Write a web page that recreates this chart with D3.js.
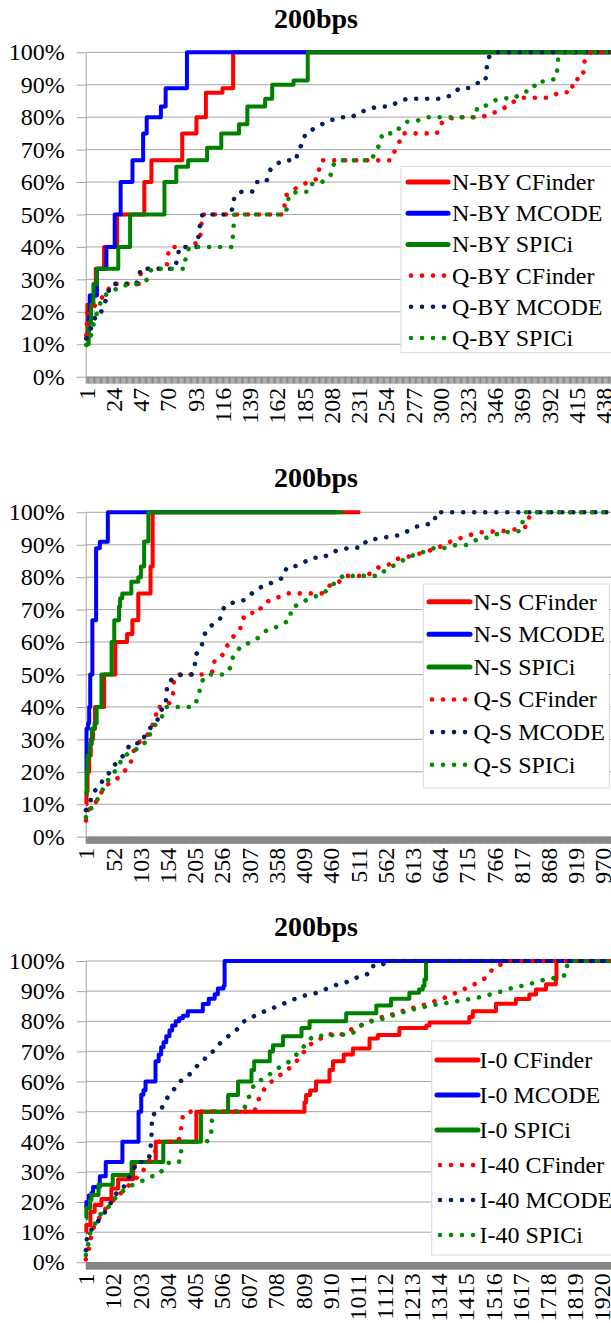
<!DOCTYPE html>
<html>
<head>
<meta charset="utf-8">
<script src="https://cdn.jsdelivr.net/npm/d3@7"></script>
<style>
  body { margin: 0; background: #fff; overflow: hidden; }
  svg { display: block; }
  svg text { font-family: "Liberation Serif", "DejaVu Serif", "Times New Roman", Times, serif; fill: #000; }
</style>
</head>
<body>
<svg id="chart" width="611" height="1323"></svg>
<script>
// ---- data: [category index, percent] ----
const pctTicks = [0, 10, 20, 30, 40, 50, 60, 70, 80, 90, 100];

// panel 1 : BY
const byTicks = [1, 24, 47, 70, 93, 116, 139, 162, 185, 208, 231, 254, 277, 300, 323, 346, 369, 392, 415, 438];
const byLabels = ["N-BY CFinder", "N-BY MCODE", "N-BY SPICi", "Q-BY CFinder", "Q-BY MCODE", "Q-BY SPICi"];
const nbyCFinder = [[1,12.5],[2,22.2],[4,25],[9,33.3],[16,40],[27,50],[50,60],[56,66.7],[82,75],[94,80],[102,87.5],[116,88.9],[125,100],[456,100]];
const nbyMCODE = [[1,12.5],[3,20],[4,25],[10,33.3],[18,40],[25,50],[30,60],[40,66.7],[49,75],[52,80],[64,83.3],[68,88.9],[86,100],[456,100]];
const nbySPICi = [[1,10],[3,16.7],[5,22.2],[7,28.6],[10,33.3],[28,40],[38,50],[67,60],[77,64.7],[87,66.7],[103,70.6],[115,75],[130,77.8],[137,83.3],[152,85.7],[158,90],[176,91.3],[188,100],[456,100]];
const qbyCFinder = [[1,12.8],[2,20],[6,21],[9,22.2],[13,24],[18,25.6],[22,28.6],[46,28.6],[47,32],[48,33.3],[66,33.3],[69,34],[70,37.7],[72,40],[89,40],[97,42],[98,46],[99,50],[167,50],[170,56],[175,57.4],[182,59],[189,60],[196,61],[198,64.7],[200,66.7],[258,66.7],[262,70],[265,72],[268,75],[297,75],[300,77.9],[306,79.4],[313,80],[335,80],[342,81],[350,82],[357,83.5],[364,85.3],[370,86],[391,86],[397,87],[401,87.7],[411,87.7],[412,91.5],[420,92],[421,94.5],[422,98],[427,100],[456,100]];
const qbyMCODE = [[1,11.8],[3,13],[5,15],[7,17],[10,19.5],[13,19.5],[16,22.2],[19,25],[21,28],[23,28.6],[43,28.6],[45,30],[47,33.3],[76,33.3],[78,37],[80,40],[95,40],[96,45],[98,48],[99,50],[121,50],[125,52],[126,55.6],[132,57],[141,57],[145,60],[153,60],[156,63.6],[161,65.5],[168,66.7],[178,66.7],[180,70],[184,72],[186,75],[193,76.4],[200,77.8],[207,79],[216,80],[225,80],[232,81.5],[240,82.5],[247,83.3],[257,83.3],[264,84.6],[272,85.7],[300,85.7],[309,86.7],[316,88.9],[324,89],[331,90.5],[338,91],[339,94.5],[340,98],[344,100],[456,100]];
const qbySPICi = [[1,9.8],[3,12],[5,12.8],[7,16],[9,18.5],[12,22],[16,25],[22,26],[30,28],[45,28.6],[53,30],[56,33.3],[84,33.3],[85,37],[88,40],[124,40],[125,44],[126,50],[167,50],[171,52],[172,56],[179,57],[189,57],[192,59.6],[200,60],[207,61.7],[209,65],[213,66.7],[242,66.7],[245,69.6],[249,71.6],[251,75],[262,75],[266,77],[272,78.6],[281,79],[289,80],[330,80],[331,83],[338,83.5],[347,85.3],[354,85.8],[362,85.8],[369,87.6],[378,88.4],[381,91],[390,91],[398,92],[399,96],[400,100],[456,100]];

// panel 2 : S
const sTicks = [1, 52, 103, 154, 205, 256, 307, 358, 409, 460, 511, 562, 613, 664, 715, 766, 817, 868, 919, 970];
const sLabels = ["N-S CFinder", "N-S MCODE", "N-S SPICi", "Q-S CFinder", "Q-S MCODE", "Q-S SPICi"];
const nsCFinder = [[1,10],[2,14],[4,20],[7,25],[10,30],[14,33.3],[18,40],[35,50],[56,60],[78,62.5],[88,66.7],[99,75],[122,83.3],[126,100],[515,100]];
const nsMCODE = [[1,20],[2,33.3],[5,35],[7,40],[9,50],[13,66.7],[20,88.9],[27,90.9],[42,100],[470,100]];
const nsSPICi = [[1,13],[2,20],[4,25],[8,28.6],[12,33.3],[17,35],[21,40],[30,50],[49,60],[54,66.7],[63,71],[65,73.5],[69,75],[86,78.6],[99,80],[104,83.3],[110,91],[118,100],[483,100]];
const qsCFinder = [[1,5],[5,8.2],[18,10.3],[27,12.6],[35,15.4],[50,17],[65,18.5],[84,22.3],[93,28],[116,31.3],[132,36.5],[133,40],[150,40],[162,42],[165,45],[166,48.8],[175,50],[221,50],[240,51],[242,54.5],[255,55.7],[262,57],[268,60],[279,62],[290,64],[294,67],[304,69],[324,69],[332,71.6],[346,72.9],[364,74],[379,75],[443,75],[459,77.6],[471,77.9],[487,80.4],[527,80.4],[542,82.2],[554,83.5],[571,84],[587,85.8],[610,86.5],[639,87.9],[660,89],[687,91.2],[702,92],[734,93.7],[759,94],[793,94.3],[812,95],[827,95.6],[832,98.7],[840,100],[1012,100]];
const qsMCODE = [[1,8.2],[10,11.3],[16,13.9],[27,15.7],[35,18.2],[47,20],[54,22],[65,24],[71,25],[85,28.8],[105,28.8],[112,31.5],[121,33.4],[135,36],[139,38.5],[150,40.3],[152,43.7],[153,47],[165,49],[180,50],[199,50],[205,53],[206,56],[217,58],[221,61.4],[227,63.7],[239,65.5],[252,67],[257,70],[265,71.6],[284,72.5],[299,73],[312,75],[324,76.5],[340,77.8],[359,78.8],[371,80],[377,83],[396,83.5],[412,84.8],[426,86],[446,86],[459,87.6],[477,88.4],[496,89.1],[518,89.1],[527,91.3],[534,91.5],[551,92],[570,92.5],[590,93],[605,94.3],[621,95.6],[637,96.1],[654,97],[657,100],[1012,100]];
const qsSPICi = [[1,6],[5,8.2],[13,9],[21,11],[30,13.8],[46,18.5],[60,21],[71,25],[90,26],[105,28.8],[115,29],[124,33],[140,36.5],[149,38],[152,40],[202,40],[212,43],[215,46],[221,48.8],[230,50],[262,50],[271,52],[277,55.7],[293,59],[312,60],[327,61.7],[340,63.7],[354,64.4],[370,65.5],[384,67],[385,70.4],[399,71.6],[415,73],[430,74],[446,75],[459,77],[471,78.8],[483,80.4],[551,80.4],[562,82.2],[574,83.2],[590,84.8],[605,86],[621,87.3],[637,87.9],[654,89],[675,89],[694,89.9],[715,89.9],[729,91.3],[749,92],[765,93],[780,93.7],[796,94],[815,94.2],[820,97.4],[824,100],[1012,100]];

// panel 3 : I
const iTicks = [1, 102, 203, 304, 405, 506, 607, 708, 809, 910, 1011, 1112, 1213, 1314, 1415, 1516, 1617, 1718, 1819, 1920];
const iLabels = ["I-0 CFinder", "I-0 MCODE", "I-0 SPICi", "I-40 CFinder", "I-40 MCODE", "I-40 SPICi"];
const i0CFinder = [[1,10],[3,12.4],[18,16.8],[34,19],[59,21],[96,24.5],[121,27.6],[177,31.7],[183,33.3],[261,40],[412,50],[814,53],[820,55.5],[835,57],[857,60],[907,63.8],[920,66.7],[960,69],[994,71],[1056,74.3],[1087,75.4],[1167,77.8],[1267,78.6],[1279,79.6],[1427,81.4],[1440,83.3],[1526,85.8],[1600,87.4],[1650,88.9],[1675,90.5],[1712,92.3],[1749,93.9],[1751,100],[1755,100]];
const i0MCODE = [[1,18],[3,20],[12,22.2],[22,23],[28,25],[53,28.6],[75,33.3],[137,40],[197,50],[207,55.6],[215,57.1],[223,60],[260,66.7],[272,69],[281,71.4],[290,73],[300,75],[312,76.9],[322,78.6],[335,80],[348,81],[362,81.8],[380,83.3],[436,85.7],[458,87.5],[480,89],[492,90.9],[513,91.7],[517,100],[2008,100]];
const i0SPICi = [[1,14.6],[3,18],[17,20.7],[22,22.3],[48,25.7],[101,29],[171,33.3],[289,40],[429,50],[530,55.5],[567,60],[617,63.8],[627,66.7],[685,70],[697,72],[734,75],[803,77.8],[833,80],[969,82.7],[1081,85.2],[1136,87.5],[1204,89.5],[1240,90.5],[1254,91.7],[1260,93.9],[1266,100],[1270,100]];
const i40CFinder = [[1,1],[11,4],[18,7],[24,10.7],[40,13],[60,16],[80,18.5],[96,20],[125,22.5],[146,24],[165,26],[189,28],[210,29.5],[222,32],[232,33.3],[250,35],[260,37],[270,40],[345,40],[350,42],[356,45],[362,48.9],[381,50],[628,50],[638,52.8],[648,55],[666,57.7],[685,59.5],[700,60.6],[721,62],[750,63.8],[783,66.6],[800,68.5],[814,70],[830,72],[860,73.5],[882,74.7],[907,75.7],[960,75.7],[1000,78],[1037,78.9],[1060,80],[1093,81.2],[1125,81.8],[1161,82.9],[1200,84],[1241,85],[1280,86],[1316,87.2],[1350,88.3],[1384,89.7],[1400,90.5],[1427,91.2],[1440,92],[1470,93.4],[1490,94.5],[1508,96.7],[1526,98.3],[1551,99],[1580,100],[2008,100]];
const i40MCODE = [[1,4],[3,7],[10,9.5],[18,10.2],[28,11.8],[38,12.5],[50,14],[65,15.5],[80,18],[96,20],[110,22],[121,24],[135,25],[146,25.2],[158,27.5],[170,29.5],[180,31],[189,33.3],[225,33.3],[239,35.4],[245,41.4],[246,45],[247,48.9],[276,50],[294,53],[313,56],[335,58],[350,60],[377,61.3],[400,63.8],[424,66],[440,67],[453,69],[474,70],[490,72],[505,73],[536,75.4],[560,77],[585,79.6],[604,81],[622,81.5],[653,82.8],[684,84],[715,85],[746,86.2],[783,87.6],[814,88.5],[851,89.2],[882,90.2],[907,91.2],[930,92],[975,93.1],[990,94],[1020,94.8],[1056,95.9],[1068,98.3],[1100,98.3],[1118,100],[2008,100]];
const i40SPICi = [[1,2.4],[8,5],[18,10.2],[30,12],[45,14.5],[60,16.5],[80,18],[100,19.5],[116,22.3],[145,24],[170,25.5],[200,26.5],[239,28.4],[270,29],[290,31],[313,33.4],[350,33.4],[356,37.3],[368,40],[450,40],[467,41.7],[468,45.6],[474,50],[585,50],[604,53.9],[615,57],[635,60],[670,61],[690,62.8],[734,65.5],[760,66.7],[789,69.4],[810,71.5],[826,73.2],[845,75],[990,75.7],[1019,78.4],[1040,79.5],[1065,80],[1093,80.5],[1130,81.6],[1170,82.7],[1211,83.8],[1250,84.6],[1300,85.5],[1340,86],[1380,86.6],[1415,87.2],[1452,87.7],[1490,88.5],[1525,89.5],[1551,90],[1590,91.2],[1620,91.7],[1650,92.3],[1690,93.4],[1720,94.1],[1755,94.5],[1786,95.4],[1788,97.8],[1798,100],[2008,100]];

// ---- layout ----
const serif = "'Liberation Serif', 'DejaVu Serif', 'Times New Roman', Times, serif";
const colors = ["#ff0000", "#0000ff", "#008000", "#ff0000", "#002060", "#008a00"];
const plotLeft = 85.7, plotWidth = 540;
const dots = "0.01 11";

const panels = [
  { n: 456, titleY: 28, top: 52.3, bottom: 376.7, ticks: byTicks, labels: byLabels,
    series: [nbyCFinder, nbyMCODE, nbySPICi, qbyCFinder, qbyMCODE, qbySPICi],
    leg: { x: 401, y: 166.5, w: 214, h: 186, row0: 182, step: 31.2, l0: 408, l1: 448, tx: 452 } },
  { n: 1012, titleY: 487, top: 512.3, bottom: 836.7, ticks: sTicks, labels: sLabels,
    series: [nsCFinder, nsMCODE, nsSPICi, qsCFinder, qsMCODE, qsSPICi],
    leg: { x: 423.3, y: 584, w: 186, h: 204, row0: 601.7, step: 32.6, l0: 429, l1: 470, tx: 473.5 } },
  { n: 2008, titleY: 936, top: 961, bottom: 1262.3, ticks: iTicks, labels: iLabels,
    series: [i0CFinder, i0MCODE, i0SPICi, i40CFinder, i40MCODE, i40SPICi],
    leg: { x: 431.7, y: 1041, w: 190, h: 214, row0: 1060, step: 35, l0: 437, l1: 478, tx: 479.5 } }
];

const svg = d3.select("#chart").attr("font-family", serif);

panels.forEach(p => {
  const g = svg.append("g");
  const x = d3.scaleLinear().domain([0.5, p.n + 0.5]).range([plotLeft, plotLeft + plotWidth]);
  const y = d3.scaleLinear().domain([0, 100]).range([p.bottom, p.top]);

  g.append("text")
    .attr("x", 316).attr("y", p.titleY)
    .attr("text-anchor", "middle")
    .attr("font-family", serif)
    .attr("font-size", 28).attr("font-weight", "bold")
    .text("200bps");

  // gridlines
  g.append("g").selectAll("line")
    .data(pctTicks.filter(d => d > 0))
    .join("line")
    .attr("x1", plotLeft).attr("x2", plotLeft + plotWidth)
    .attr("y1", d => y(d)).attr("y2", d => y(d))
    .attr("stroke", "#a6a6a6").attr("stroke-width", 1);

  // y axis
  const ya = g.append("g")
    .attr("transform", "translate(" + plotLeft + ",0)")
    .call(d3.axisLeft(y).tickValues(pctTicks).tickSize(9).tickSizeOuter(0).tickPadding(12).tickFormat(d => d + "%"));
  ya.attr("font-family", serif).attr("font-size", 24);
  ya.select(".domain").attr("stroke", "#a6a6a6");
  ya.selectAll(".tick line").attr("stroke", "#a6a6a6");
  ya.selectAll("text").attr("fill", "#000");

  // x axis: a tick mark at every category boundary
  const xa = g.append("g")
    .attr("transform", "translate(0," + p.bottom + ")")
    .call(d3.axisBottom(x).tickValues(d3.range(0.5, p.n + 1, 1)).tickSize(7).tickSizeOuter(0).tickFormat(""));
  xa.select(".domain").attr("stroke", "#868686");
  xa.selectAll(".tick line").attr("stroke", "#868686");

  // x labels, rotated
  g.append("g").selectAll("text")
    .data(p.ticks)
    .join("text")
    .attr("transform", d => "translate(" + x(d) + "," + (p.bottom + 11) + ") rotate(-90)")
    .attr("text-anchor", "end")
    .attr("dy", "0.35em")
    .attr("font-family", serif)
    .attr("font-size", 24)
    .text(d => d);

  // series
  p.series.forEach((data, i) => {
    const dotted = i >= 3;
    const line = d3.line()
      .x(d => x(d[0])).y(d => y(d[1]))
      .curve(dotted ? d3.curveLinear : d3.curveStepAfter);
    g.append("path")
      .datum(data)
      .attr("d", line)
      .attr("fill", "none")
      .attr("stroke", colors[i])
      .attr("stroke-width", dotted ? 4.6 : 4)
      .attr("stroke-linecap", dotted ? "round" : "butt")
      .attr("stroke-linejoin", "round")
      .attr("stroke-dasharray", dotted ? dots : null);
  });

  // legend
  const L = p.leg;
  const lg = g.append("g");
  lg.append("rect")
    .attr("x", L.x).attr("y", L.y).attr("width", L.w).attr("height", L.h)
    .attr("fill", "#fff").attr("stroke", "#d9d9d9");
  p.labels.forEach((lab, i) => {
    const cy = L.row0 + i * L.step;
    const dotted = i >= 3;
    lg.append("line")
      .attr("x1", L.l0 + (dotted ? 3 : 0)).attr("x2", L.l1)
      .attr("y1", cy).attr("y2", cy)
      .attr("stroke", colors[i])
      .attr("stroke-width", dotted ? 4.6 : 5)
      .attr("stroke-linecap", "round")
      .attr("stroke-dasharray", dotted ? dots : null);
    lg.append("text")
      .attr("x", L.tx).attr("y", cy).attr("dy", "0.33em")
      .attr("font-family", serif)
      .attr("font-size", 24)
      .text(lab);
  });
});
</script>
</body>
</html>
